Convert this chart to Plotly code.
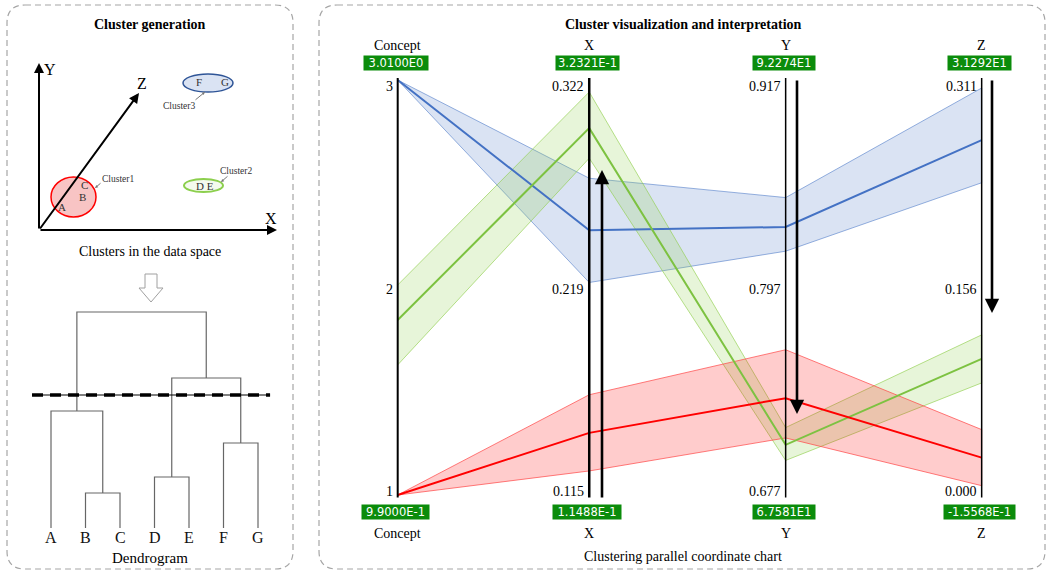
import plotly.graph_objects as go

# ---------------- data ----------------
DIMS = ["Concept", "X", "Y", "Z"]
DIM_MIN = [1.0, 0.115, 0.677, 0.000]
DIM_MAX = [3.0, 0.322, 0.917, 0.311]
TICKS_TOP = ["3", "0.322", "0.917", "0.311"]
TICKS_MID = ["2", "0.219", "0.797", "0.156"]
TICKS_BOT = ["1", "0.115", "0.677", "0.000"]
BOX_TOP = ["3.0100E0", "3.2321E-1", "9.2274E1", "3.1292E1"]
BOX_BOT = ["9.9000E-1", "1.1488E-1", "6.7581E1", "-1.5568E-1"]

# cluster 3 (blue), cluster 2 (green), cluster 1 (red): mean and band limits per dimension
C3_MEAN = [3.000, 0.247, 0.832, 0.266]
C3_UPPER = [3.000, 0.273, 0.849, 0.305]
C3_LOWER = [3.000, 0.221, 0.818, 0.234]
C2_MEAN = [1.843, 0.298, 0.706, 0.102]
C2_UPPER = [2.012, 0.316, 0.716, 0.120]
C2_LOWER = [1.627, 0.283, 0.697, 0.084]
C1_MEAN = [1.000, 0.146, 0.733, 0.028]
C1_UPPER = [1.000, 0.165, 0.761, 0.049]
C1_LOWER = [1.000, 0.127, 0.710, 0.007]

# dendrogram
LEAVES = ["A", "B", "C", "D", "E", "F", "G"]
MERGES = [(1, 2, 0.35), (3, 4, 0.51), (5, 6, 0.85), (0, 7, 1.17), (8, 9, 1.50), (10, 11, 2.16)]
CUT_HEIGHT = 1.33

# sketch of clusters in the data space (sketch units = pixels of the left panel)
CLUSTER_NAMES = ["Cluster1", "Cluster2", "Cluster3"]
CLUSTER_CX = [73.5, 203.5, 208.0]
CLUSTER_CY = [197.0, 185.5, 83.0]
CLUSTER_RX = [22.5, 19.5, 25.0]
CLUSTER_RY = [20.0, 6.5, 9.0]
POINT_LABELS = ["A", "B", "C", "D E", "F", "G"]
POINT_X = [62, 82, 84, 205, 199, 225]
POINT_Y = [207, 197, 185, 186, 82, 82]

# ---------------- layout constants ----------------
W, H = 1047, 573
AX_POS = [0.0, 0.984, 1.993, 3.0]
AX_WIDTH = [2, 2.5, 1.5, 1.5]
SERIF = "Liberation Serif, Times New Roman, serif"
SANS = "DejaVu Sans, sans-serif"
BOXGREEN = "#0b8c0b"

fig = go.Figure()


def norm(vals):
    return [(v - lo) / (hi - lo) for v, lo, hi in zip(vals, DIM_MIN, DIM_MAX)]


styles = [
    (C3_MEAN, C3_UPPER, C3_LOWER, "#4472c4", "rgba(68,114,196,0.20)", "rgba(68,114,196,0.55)"),
    (C2_MEAN, C2_UPPER, C2_LOWER, "#7dc241", "rgba(146,208,80,0.22)", "rgba(146,208,80,0.65)"),
    (C1_MEAN, C1_UPPER, C1_LOWER, "#ff0000", "rgba(255,0,0,0.20)", "rgba(255,70,70,0.7)"),
]
for mean, up, lo, lc, fc, ec in styles:
    u = norm(up)
    l = norm(lo)
    fig.add_trace(go.Scatter(x=AX_POS + AX_POS[::-1], y=u + l[::-1], mode="lines",
                             fill="toself", fillcolor=fc, line=dict(color=ec, width=1),
                             hoverinfo="skip", showlegend=False, xaxis="x", yaxis="y"))
for mean, up, lo, lc, fc, ec in styles:
    fig.add_trace(go.Scatter(x=AX_POS, y=norm(mean), mode="lines",
                             line=dict(color=lc, width=2), hoverinfo="skip",
                             showlegend=False, xaxis="x", yaxis="y"))

# dendrogram trace
node_x = {i: float(i) for i in range(len(LEAVES))}
node_h = {i: 0.0 for i in range(len(LEAVES))}
dx, dy = [], []
for k, (a, b, h) in enumerate(MERGES):
    nid = len(LEAVES) + k
    dx += [node_x[a], node_x[a], node_x[b], node_x[b], None]
    dy += [node_h[a], h, h, node_h[b], None]
    node_x[nid] = (node_x[a] + node_x[b]) / 2
    node_h[nid] = h
fig.add_trace(go.Scatter(x=dx, y=dy, mode="lines", line=dict(color="#666666", width=1.2),
                         hoverinfo="skip", showlegend=False, xaxis="x3", yaxis="y3"))
fig.add_trace(go.Scatter(x=[-0.55, 6.35], y=[CUT_HEIGHT, CUT_HEIGHT], mode="lines",
                         line=dict(color="black", width=1), hoverinfo="skip",
                         showlegend=False, xaxis="x3", yaxis="y3"))
fig.add_trace(go.Scatter(x=[-0.55, 6.35], y=[CUT_HEIGHT, CUT_HEIGHT], mode="lines",
                         line=dict(color="black", width=3.5, dash="11px,7px"), hoverinfo="skip",
                         showlegend=False, xaxis="x3", yaxis="y3"))

shapes = []
ann = []


def rrect(x0, y0, x1, y1, r):
    return (f"M {x0+r},{y0} L {x1-r},{y0} Q {x1},{y0} {x1},{y0+r} L {x1},{y1-r} "
            f"Q {x1},{y1} {x1-r},{y1} L {x0+r},{y1} Q {x0},{y1} {x0},{y1-r} "
            f"L {x0},{y0+r} Q {x0},{y0} {x0+r},{y0} Z")


for box in [(7, 5, 293, 569), (319, 5, 1045, 569)]:
    shapes.append(dict(type="path", path=rrect(*box, 18), xref="x2", yref="y2",
                       line=dict(color="#a6a6a6", width=1.2, dash="6px,4px"), layer="below"))

# parallel axes
for p, wdt in zip(AX_POS, AX_WIDTH):
    shapes.append(dict(type="line", xref="x", yref="y", x0=p, x1=p, y0=-0.006, y1=1.005,
                       line=dict(color="black", width=wdt), layer="above"))

for i, p in enumerate(AX_POS):
    for txt, yv, ysh in [(TICKS_TOP[i], 1.0, -7), (TICKS_MID[i], 0.5, -2), (TICKS_BOT[i], 0.0, 4)]:
        ann.append(dict(x=p, y=yv, xref="x", yref="y", text=txt, showarrow=False,
                        xanchor="right", yanchor="middle", xshift=-3, yshift=ysh,
                        font=dict(family=SERIF, size=14, color="black")))
    ann.append(dict(x=p, y=45, xref="x", yref="y2", text=DIMS[i], showarrow=False,
                    font=dict(family=SERIF, size=14, color="black")))
    ann.append(dict(x=p, y=533, xref="x", yref="y2", text=DIMS[i], showarrow=False,
                    font=dict(family=SERIF, size=14, color="black")))
    ann.append(dict(x=p, y=63, xref="x", yref="y2", text=BOX_TOP[i], showarrow=False,
                    bgcolor=BOXGREEN, width=[62, 61, 60, 61][i], height=12, xshift=-2,
                    font=dict(family=SANS, size=11.5, color="white")))
    ann.append(dict(x=p, y=512, xref="x", yref="y2", text=BOX_BOT[i], showarrow=False,
                    bgcolor=BOXGREEN, width=[65, 66, 60, 69][i], height=12, xshift=-2,
                    font=dict(family=SANS, size=11.5, color="white")))

# direction arrows next to the axes
for (tx, ty, hx, hy) in [(602, 499, 602, 170), (797, 79, 797, 414), (992, 79, 992, 313)]:
    ann.append(dict(x=hx, y=hy, ax=tx, ay=ty, xref="x2", yref="y2", axref="x2", ayref="y2",
                    showarrow=True, arrowhead=2, arrowsize=1.1, arrowwidth=2.6,
                    arrowcolor="black", standoff=0, text=""))

# titles and captions
ann.append(dict(x=150, y=24, xref="x2", yref="y2", text="<b>Cluster generation</b>",
                showarrow=False, font=dict(family=SERIF, size=14, color="black")))
ann.append(dict(x=683, y=24, xref="x2", yref="y2",
                text="<b>Cluster visualization and interpretation</b>",
                showarrow=False, font=dict(family=SERIF, size=14, color="black")))
ann.append(dict(x=150, y=251, xref="x2", yref="y2", text="Clusters in the data space",
                showarrow=False, font=dict(family=SERIF, size=14, color="black")))
ann.append(dict(x=150, y=558, xref="x2", yref="y2", text="Dendrogram",
                showarrow=False, font=dict(family=SERIF, size=15, color="black")))
ann.append(dict(x=683, y=556, xref="x2", yref="y2", text="Clustering parallel coordinate chart",
                showarrow=False, font=dict(family=SERIF, size=14, color="black")))

# dendrogram leaf labels
for i, lab in enumerate(LEAVES):
    ann.append(dict(x=i, y=0, xref="x3", yref="y3", text=lab, showarrow=False,
                    yanchor="middle", yshift=-9, font=dict(family=SERIF, size=16, color="#111")))

# data-space sketch: axes
for (hx, hy, lab, lx, ly) in [(39, 63, "Y", 50, 69), (277, 230, "X", 271, 218), (139, 93, "Z", 142, 83)]:
    ann.append(dict(x=hx, y=hy, ax=39, ay=230, xref="x2", yref="y2", axref="x2", ayref="y2",
                    showarrow=True, arrowhead=2, arrowsize=1, arrowwidth=2,
                    arrowcolor="black", standoff=0, text=""))
    ann.append(dict(x=lx, y=ly, xref="x2", yref="y2", text=lab, showarrow=False,
                    font=dict(family=SERIF, size=16, color="black")))

# cluster ellipses
ell_style = [("#f8c4c4", "#ff0000", 1.5), ("#f4faee", "#8ccf4d", 2), ("#dae3f3", "#2f5597", 1.5)]
for i in range(3):
    fc, lc, lw = ell_style[i]
    shapes.append(dict(type="circle", xref="x2", yref="y2",
                       x0=CLUSTER_CX[i] - CLUSTER_RX[i], x1=CLUSTER_CX[i] + CLUSTER_RX[i],
                       y0=CLUSTER_CY[i] - CLUSTER_RY[i], y1=CLUSTER_CY[i] + CLUSTER_RY[i],
                       fillcolor=fc, line=dict(color=lc, width=lw), layer="below"))
for lab, x, y in zip(POINT_LABELS, POINT_X, POINT_Y):
    ann.append(dict(x=x, y=y, xref="x2", yref="y2", text=lab, showarrow=False,
                    font=dict(family=SERIF, size=11, color="#333")))
# cluster name labels with pointers
for name, (lx, ly), (px_, py_), (tx, ty) in zip(
        CLUSTER_NAMES,
        [(118, 179), (236, 171), (179, 106)],
        [(95, 188), (221, 182), (205, 92)],
        [(102, 182), (229, 175), (194, 101)]):
    ann.append(dict(x=lx, y=ly, xref="x2", yref="y2", text=name, showarrow=False,
                    font=dict(family=SERIF, size=9.5, color="#333")))
    ann.append(dict(x=px_, y=py_, ax=tx, ay=ty, xref="x2", yref="y2", axref="x2", ayref="y2",
                    showarrow=True, arrowhead=2, arrowsize=0.6, arrowwidth=1,
                    arrowcolor="#777", standoff=0, text=""))

# hollow down arrow
shapes.append(dict(type="path", xref="x2", yref="y2",
                   path="M 145,274 L 157,274 L 157,288 L 163,288 L 151,302 L 139,288 L 145,288 Z",
                   fillcolor="white", line=dict(color="#a0a0a0", width=1)))

fig.update_layout(
    width=W, height=H, margin=dict(l=0, r=0, t=0, b=0),
    paper_bgcolor="white", plot_bgcolor="rgba(0,0,0,0)",
    showlegend=False, shapes=shapes, annotations=ann,
    xaxis=dict(domain=[339.3 / W, 1020.6 / W], range=[-0.3, 3.2], visible=False, fixedrange=True),
    yaxis=dict(domain=[1 - 515.75 / H, 1 - 59.25 / H], range=[-0.05, 1.05], visible=False, fixedrange=True),
    xaxis2=dict(domain=[0, 1], range=[0, W], visible=False, anchor="y2", fixedrange=True),
    yaxis2=dict(domain=[0, 1], range=[H, 0], visible=False, anchor="x2", fixedrange=True),
    xaxis3=dict(domain=[16.5 / W, 292.5 / W], range=[-1, 7], visible=False, anchor="y3", fixedrange=True),
    yaxis3=dict(domain=[1 - 558 / H, 1 - 278 / H], range=[-0.3, 2.5], visible=False, anchor="x3", fixedrange=True),
)

fig.write_html("out.html", config={"displayModeBar": False},
               post_script="document.body.style.margin='0';document.body.style.overflow='hidden';")
